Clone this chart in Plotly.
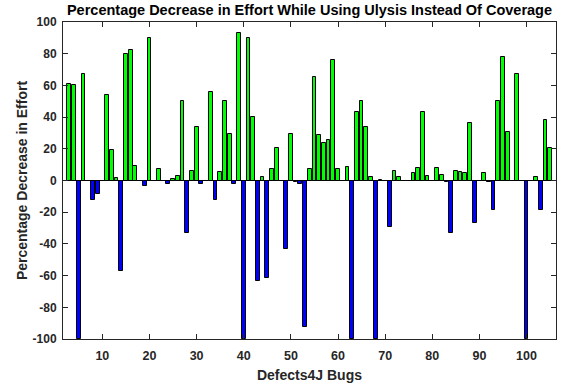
import plotly.graph_objects as go

bug_ids = list(range(1, 106))
effort_decrease = [
    0, 0, 61.0, 60.3, -100, 67.4, 0, -12.4, -8.2, 0,            # 1-10
    53.8, 19.5, 1.7, -57.0, 79.6, 82.3, 9.4, 0, -3.6, 90.1,     # 11-20
    0, 7.0, 0, -1.9, 0.8, 2.6, 50.2, -33.4, 5.7, 33.6,          # 21-30
    -1.9, 0, 55.6, -12.4, 5.4, 50.2, 29.6, -1.9, 93.0, -100,    # 31-40
    90.1, 40.1, -63.7, 2.3, -61.6, 7.1, 20.3, 0, -43.1, 29.6,   # 41-50
    -1.1, -1.9, -92.3, 7.5, 65.1, 28.5, 23.9, 25.6, 76.0, 7.5,  # 51-60
    0, 8.5, -100, 43.5, 50.2, 33.6, 2.0, -100, 0.6, 0,          # 61-70
    -29.2, 6.0, 2.5, 0, 0, 4.5, 7.6, 43.0, 2.7, 0,              # 71-80
    8.2, 3.3, -1.1, -33.4, 6.3, 5.2, 4.8, 36.5, -27.1, 0,       # 81-90
    4.6, -0.7, -18.7, 50.0, 78.1, 30.4, 0, 67.4, 0, -100,       # 91-100
    0, 2.5, -18.7, 38.4, 20.2,                                  # 101-105
]
y_tick_values = [-100, -80, -60, -40, -20, 0, 20, 40, 60, 80, 100]
x_tick_values = [10, 20, 30, 40, 50, 60, 70, 80, 90, 100]

POS_COLOR = "#00ff00"
NEG_COLOR = "#0000ff"
colors = [POS_COLOR if v >= 0 else NEG_COLOR for v in effort_decrease]

FONT = "Liberation Sans, Arial, Helvetica, sans-serif"
AX = "#262626"

fig = go.Figure(
    go.Bar(
        x=bug_ids,
        y=effort_decrease,
        width=0.8,
        marker=dict(color=colors, line=dict(color="black", width=1)),
        showlegend=False,
    )
)

fig.update_layout(
    width=564,
    height=386,
    margin=dict(l=63, r=8, t=22, b=47),
    paper_bgcolor="white",
    plot_bgcolor="white",
    font=dict(family=FONT, color=AX),
    title=dict(
        text="<b>Percentage Decrease in Effort While Using Ulysis Instead Of Coverage</b>",
        x=0.5 * (63 + 556) / 564,
        xanchor="center",
        y=1 - 10 / 386,
        yanchor="middle",
        font=dict(size=14.5, color="black", family=FONT),
        automargin=False,
    ),
    bargap=0,
)

fig.update_xaxes(
    automargin=False,
    range=[1.65, 106.25],
    tickvals=x_tick_values,
    ticktext=[f"<b>{v}</b>" for v in x_tick_values],
    ticks="inside",
    ticklen=5,
    tickcolor=AX,
    ticklabelstandoff=5,
    showline=True,
    linecolor=AX,
    linewidth=1,
    mirror="ticks",
    showgrid=False,
    zeroline=False,
    tickfont=dict(size=12.5, family=FONT, color=AX),
    title=dict(text="<b>Defects4J Bugs</b>", font=dict(size=14, family=FONT, color=AX), standoff=8),
)
fig.update_yaxes(
    automargin=False,
    range=[-100, 100],
    tickvals=y_tick_values,
    ticktext=[f"<b>{v}</b>" for v in y_tick_values],
    ticks="inside",
    ticklen=5,
    tickcolor=AX,
    ticklabelstandoff=3,
    showline=True,
    linecolor=AX,
    linewidth=1,
    mirror="ticks",
    showgrid=False,
    zeroline=True,
    zerolinecolor="black",
    zerolinewidth=1,
    tickfont=dict(size=12, family=FONT, color=AX),
    title=dict(text="<b>Percentage Decrease in Effort</b>", font=dict(size=14, family=FONT, color=AX), standoff=1),
)

fig.write_html(
    "out.html",
    config={"displayModeBar": False},
    post_script="document.body.style.margin='0px';",
)
